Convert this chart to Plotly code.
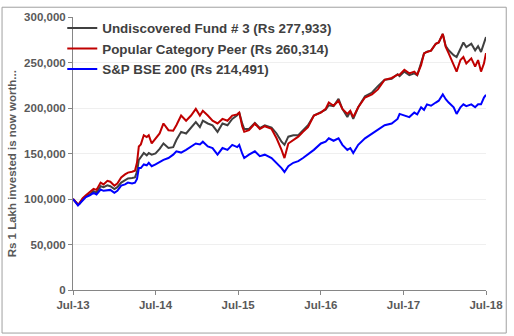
import plotly.graph_objects as go

dates = [
    "2013-07-01", "2013-07-14", "2013-07-23", "2013-07-31", "2013-08-13", "2013-08-27",
    "2013-09-13", "2013-09-30", "2013-10-13", "2013-10-31", "2013-11-13", "2013-11-30",
    "2013-12-13", "2013-12-31", "2014-01-13", "2014-01-30", "2014-02-16", "2014-03-01",
    "2014-03-19", "2014-04-01", "2014-04-10", "2014-04-18", "2014-04-27", "2014-05-10",
    "2014-05-23", "2014-06-01", "2014-06-14", "2014-07-01", "2014-07-19", "2014-08-05",
    "2014-08-27", "2014-09-17", "2014-10-01", "2014-10-22", "2014-11-13", "2014-12-05",
    "2014-12-26", "2015-01-13", "2015-01-26", "2015-02-17", "2015-03-10", "2015-04-01",
    "2015-04-23", "2015-05-15", "2015-06-05", "2015-06-27", "2015-07-06", "2015-07-19",
    "2015-07-28", "2015-08-18", "2015-09-13", "2015-10-05", "2015-10-27", "2015-11-26",
    "2015-12-18", "2016-01-09", "2016-01-22", "2016-02-08", "2016-03-01", "2016-03-23",
    "2016-04-13", "2016-05-05", "2016-05-31", "2016-07-01", "2016-07-22", "2016-08-05",
    "2016-08-26", "2016-09-17", "2016-10-04", "2016-10-26", "2016-11-08", "2016-11-21",
    "2016-12-13", "2017-01-12", "2017-02-12", "2017-03-10", "2017-04-09", "2017-05-10",
    "2017-06-05", "2017-06-14", "2017-07-05", "2017-07-27", "2017-08-18", "2017-08-31",
    "2017-09-17", "2017-09-30", "2017-10-13", "2017-10-31", "2017-11-21", "2017-12-04",
    "2017-12-22", "2018-01-04", "2018-01-17", "2018-02-08", "2018-02-21", "2018-03-10",
    "2018-03-23", "2018-04-05", "2018-04-27", "2018-05-14", "2018-05-27", "2018-06-09",
    "2018-06-22", "2018-07-01",
]

fund = [
    100000, 97000, 94000, 95000, 100000, 103000, 105000, 108600, 107000, 114000, 113000, 115000,
    114000, 111000, 113000, 118000, 121000, 122600, 123000, 123700, 130000, 143000, 146000, 150500,
    148000, 150500, 148700, 150000, 155000, 161000, 156000, 157000, 164800, 173800, 172000, 179000,
    184600, 179000, 186000, 183000, 181000, 173800, 183000, 181000, 188000, 192000, 195000, 183000,
    177000, 177000, 183500, 178000, 181000, 178500, 172000, 163000, 159500, 168500, 170000, 170000,
    175000, 181000, 191700, 195000, 198000, 203000, 202000, 210000, 199000, 190000, 196000, 188000,
    200800, 213000, 217000, 224000, 231000, 232000, 237000, 235000, 240000, 236000, 238000, 236000,
    251000, 260000, 262000, 263000, 270600, 272000, 281400, 268000, 263400, 258000, 256000, 265300,
    272000, 267000, 270600, 263400, 268000, 261600, 270600, 277933,
]

peer = [
    100000, 97000, 94000, 96000, 101000, 104000, 107000, 111000, 110000, 118000, 116000, 120000,
    119000, 114700, 117000, 123700, 127000, 129000, 130000, 131000, 140000, 157700, 160000, 170000,
    168000, 170000, 161000, 166000, 172000, 183000, 175600, 175000, 181000, 191700, 186000, 191700,
    199000, 191700, 197000, 191700, 186000, 183000, 188000, 186000, 191700, 193000, 195000, 180000,
    173800, 175600, 183000, 177000, 180000, 177000, 166700, 154000, 145000, 161000, 164800, 168500,
    173800, 179000, 191700, 195000, 199000, 206000, 202500, 208000, 199000, 193500, 197000, 190000,
    200800, 211500, 215000, 220400, 231000, 233000, 236600, 236600, 242000, 238000, 240000, 236600,
    247000, 260000, 261600, 263000, 270600, 272000, 281400, 267000, 260000, 247000, 240000, 252700,
    256000, 249000, 254500, 245500, 252700, 240000, 249000, 260314,
]

bse200 = [
    100000, 96000, 93000, 95000, 99000, 102000, 104000, 106800, 105000, 110400, 109000, 110000,
    110000, 106800, 109000, 114700, 116000, 118000, 117000, 118000, 122000, 134000, 134000, 138000,
    137000, 139800, 136000, 138000, 141000, 143000, 145000, 148700, 152400, 151000, 154000, 157700,
    161000, 160000, 163000, 157700, 156000, 148700, 156000, 154000, 159500, 157000, 159500, 150000,
    145000, 148700, 152400, 147000, 148700, 145000, 139800, 134000, 129700, 136000, 139800, 141600,
    145000, 148700, 154000, 161000, 163000, 166700, 164000, 166700, 159500, 154000, 156000, 150500,
    159500, 166700, 172000, 175600, 181000, 183000, 188000, 193500, 191700, 190000, 195000, 193000,
    200800, 198000, 204000, 202500, 206000, 208000, 215000, 209700, 206000, 200800, 193500, 200800,
    204000, 202000, 204000, 200800, 204000, 204000, 211500, 214491,
]

series_names = [
    "Undiscovered Fund # 3 (Rs 277,933)",
    "Popular Category Peer (Rs 260,314)",
    "S&P BSE 200 (Rs 214,491)",
]
series_colors = ["#404040", "#c00000", "#0000ff"]
y_ticks = [0, 50000, 100000, 150000, 200000, 250000, 300000]
x_ticks = ["2013-07-01", "2014-07-01", "2015-07-01", "2016-07-01", "2017-07-01", "2018-07-01"]
x_tick_labels = ["Jul-13", "Jul-14", "Jul-15", "Jul-16", "Jul-17", "Jul-18"]
y_title = "Rs 1 Lakh invested is now worth..."

fig = go.Figure()
for name, vals, col in zip(series_names, [fund, peer, bse200], series_colors):
    fig.add_trace(go.Scatter(x=dates, y=vals, mode="lines", name=name,
                             line=dict(color=col, width=2)))

font_family = "Liberation Sans, Arial, sans-serif"
fig.update_layout(
    width=514, height=336,
    margin=dict(l=73, r=22, t=11, b=46),
    plot_bgcolor="white", paper_bgcolor="white",
    font=dict(family=font_family, color="#595959"),
    showlegend=True,
    legend=dict(x=-0.026, y=1.015, xanchor="left", yanchor="top",
                bgcolor="rgba(0,0,0,0)", itemwidth=30, tracegroupgap=0,
                font=dict(family=font_family, size=13.4, color="#404040", weight="bold")),
    xaxis=dict(
        type="date", range=["2013-07-01", "2018-07-01"],
        tickvals=x_ticks, ticktext=x_tick_labels,
        showgrid=False, showline=True, linecolor="#868686", linewidth=1,
        ticks="outside", ticklen=4, tickcolor="#868686",
        tickfont=dict(size=11.5, color="#595959", weight="bold"),
        zeroline=False,
    ),
    yaxis=dict(
        range=[0, 300000], tickvals=y_ticks, tickformat=",",
        showgrid=True, gridcolor="#efefef", gridwidth=1,
        showline=True, linecolor="#868686", linewidth=1,
        ticks="outside", ticklen=4, tickcolor="#868686",
        tickfont=dict(size=11.5, color="#595959", weight="bold"),
        zeroline=False,
    ),
)

fig.add_annotation(text=y_title, xref="paper", yref="paper",
                   x=-0.149, y=0.462, xanchor="center", yanchor="middle",
                   textangle=-90, showarrow=False,
                   font=dict(family=font_family, size=11.5, color="#595959", weight="bold"))

fig.add_shape(type="rect", xref="paper", yref="paper",
              x0=-0.1718, x1=1.049, y0=-0.1577, y1=1.0358,
              line=dict(color="#a0a0a0", width=1), fillcolor="rgba(0,0,0,0)", layer="below")

fig.write_html("out.html")
